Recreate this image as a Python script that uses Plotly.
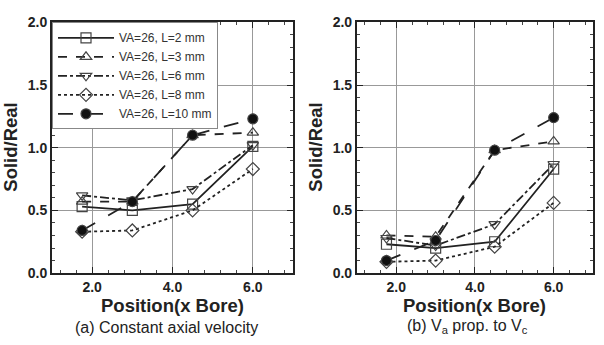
import plotly.graph_objects as go

positions = [1.75, 3.0, 4.5, 6.0]
series_names = ["VA=26, L=2 mm", "VA=26, L=3 mm", "VA=26, L=6 mm", "VA=26, L=8 mm", "VA=26, L=10 mm"]

# (a) Constant axial velocity
left_L2 = [0.53, 0.50, 0.55, 1.01]
left_L3 = [0.57, 0.57, 1.10, 1.12]
left_L6 = [0.62, 0.58, 0.67, 1.02]
left_L8 = [0.33, 0.34, 0.50, 0.83]
left_L10 = [0.34, 0.57, 1.10, 1.23]

# (b) Va prop. to Vc
right_L2 = [0.23, 0.20, 0.25, 0.83]
right_L3 = [0.30, 0.29, 0.98, 1.05]
right_L6 = [0.28, 0.22, 0.39, 0.87]
right_L8 = [0.09, 0.10, 0.21, 0.56]
right_L10 = [0.10, 0.26, 0.98, 1.24]

x_ticks = [2.0, 4.0, 6.0]
x_tick_labels = ["<b>2.0</b>", "<b>4.0</b>", "<b>6.0</b>"]
y_ticks = [0.0, 0.5, 1.0, 1.5, 2.0]
y_tick_labels = ["<b>0.0</b>", "<b>0.5</b>", "<b>1.0</b>", "<b>1.5</b>", "<b>2.0</b>"]

styles = [
    dict(dash="solid", symbol="square-open", color="#444"),
    dict(dash="dash", symbol="triangle-up-open", color="#444"),
    dict(dash="dashdot", symbol="triangle-down-open", color="#444"),
    dict(dash="dot", symbol="diamond-open", color="#444"),
    dict(dash="longdash", symbol="circle", color="#111"),
]

fig = go.Figure()
left = [left_L2, left_L3, left_L6, left_L8, left_L10]
right = [right_L2, right_L3, right_L6, right_L8, right_L10]
for i, (name, ys) in enumerate(zip(series_names, left)):
    s = styles[i]
    fig.add_trace(go.Scatter(x=positions, y=ys, name=name, mode="lines+markers",
                             line=dict(color="#222", width=1.8, dash=s["dash"]),
                             marker=dict(symbol=s["symbol"], size=10, color=s["color"],
                                         line=dict(width=1.2, color="#444")),
                             xaxis="x", yaxis="y", showlegend=True))
for i, (name, ys) in enumerate(zip(series_names, right)):
    s = styles[i]
    fig.add_trace(go.Scatter(x=positions, y=ys, name=name, mode="lines+markers",
                             line=dict(color="#222", width=1.8, dash=s["dash"]),
                             marker=dict(symbol=s["symbol"], size=10, color=s["color"],
                                         line=dict(width=1.2, color="#444")),
                             xaxis="x2", yaxis="y2", showlegend=False))

tickfont = dict(family="Liberation Sans", size=14, color="#222")

def xax(domain, anchor):
    return dict(domain=domain, anchor=anchor, range=[1.0, 7.0], tickvals=x_ticks, ticktext=x_tick_labels,
                showgrid=True, gridcolor="#999", gridwidth=1, showline=True, linecolor="#222", linewidth=2,
                mirror="ticks", ticks="inside", ticklen=6, tickcolor="#222", tickfont=tickfont, zeroline=False,
                minor=dict(dtick=0.4, tick0=2.0, ticks="inside", ticklen=3, tickcolor="#444", showgrid=False))

def yax(anchor):
    return dict(domain=[0.1942, 0.9565], anchor=anchor, range=[0.0, 2.0], tickvals=y_ticks, ticktext=y_tick_labels,
                showgrid=True, gridcolor="#999", gridwidth=1, showline=True, linecolor="#222", linewidth=2,
                mirror="ticks", ticks="inside", ticklen=6, tickcolor="#222", tickfont=tickfont, zeroline=False,
                minor=dict(dtick=0.1, ticks="inside", ticklen=3, tickcolor="#444", showgrid=False))

fig.update_layout(
    width=604, height=345, margin=dict(l=0, r=0, t=0, b=0),
    paper_bgcolor="white", plot_bgcolor="white",
    xaxis=xax([0.0861, 0.4851], "y"), yaxis=yax("x"),
    xaxis2=xax([0.591, 0.9818], "y2"), yaxis2=yax("x2"),
    legend=dict(x=0.0861, y=0.9565, xanchor="left", yanchor="top", bgcolor="white",
                bordercolor="#888", borderwidth=1, font=dict(family="Liberation Sans", size=12, color="#333"),
                tracegroupgap=0, itemwidth=56),
    showlegend=True,
)

titlefont = dict(family="Liberation Sans", size=18.5, color="#222")
ann = []
for cx in [(0.0861 + 0.4851) / 2, (0.591 + 0.9818) / 2]:
    ann.append(dict(text="<b>Position(x Bore)</b>", x=cx, y=1 - 312 / 345, xref="paper", yref="paper",
                    showarrow=False, font=titlefont, xanchor="center", yanchor="middle", borderpad=0))
for cx in [11 / 604, 316 / 604]:
    ann.append(dict(text="<b>Solid/Real</b>", x=cx, y=(0.1942 + 0.9565) / 2, xref="paper", yref="paper",
                    showarrow=False, font=titlefont, textangle=-90, xanchor="center", yanchor="middle"))
capfont = dict(family="Liberation Sans", size=16, color="#222")
ann.append(dict(text="(a) Constant axial velocity", x=166 / 604, y=0.0, xref="paper",
                yref="paper", showarrow=False, font=capfont, xanchor="center", yanchor="bottom", borderpad=0))
ann.append(dict(text="(b) V<sub>a</sub> prop. to V<sub>c</sub>", x=406 / 604, y=0.0,
                xref="paper", yref="paper", showarrow=False, font=capfont, xanchor="left", yanchor="bottom",
                borderpad=0))
fig.update_layout(annotations=ann)

fig.write_html("out.html")
